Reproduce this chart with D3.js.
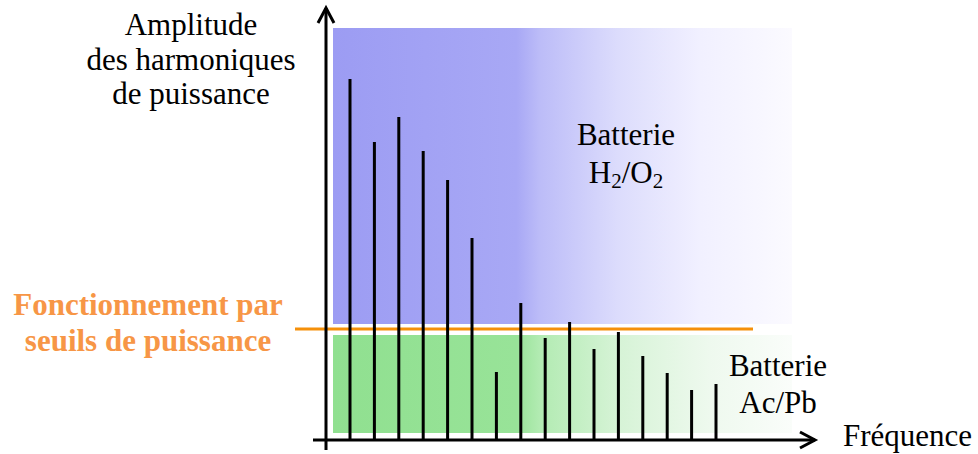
<!DOCTYPE html>
<html><head><meta charset="utf-8">
<script src="https://cdn.jsdelivr.net/npm/d3@7"></script>
<style>body{margin:0;background:#fff}svg{display:block}
.sf{font-family:"Liberation Serif","Times New Roman",Times,serif}</style>
</head><body>
<svg id="c" width="978" height="454"></svg>
<script>
// Data
const harmonics = [1,2,3,4,5,6,7,8,9,10,11,12,13,14,15,16];
const amplitudes = [90.25,74.5,80.75,72.25,65,50.5,17,34.25,25.5,29.5,22.75,27,21,16.75,12.5,14];
const threshold = 27.75;
const zoneH2O2 = [29, 103];
const zonePb = [1.75, 26.25];
const yTitle = ["Amplitude","des harmoniques","de puissance"];
const xTitle = "Fréquence";
const thresholdLabel = ["Fonctionnement par","seuils de puissance"];

const svg = d3.select("#c");
const x = d3.scaleLinear().domain([1,16]).range([350,716]);
const y = d3.scaleLinear().domain([0,100]).range([440,40]);
const axisX = 326, zoneL = 333, zoneR = 792;

const defs = svg.append("defs");
const gb = defs.append("linearGradient").attr("id","gb");
[[0,"#9c9cf3"],[0.4,"#a8a8f5"],[0.45,"#bcbcf8"],[0.62,"#dcdcfc"],[0.8,"#f1f0ff"],[1,"#fbfaff"]]
  .forEach(s=>gb.append("stop").attr("offset",s[0]).attr("stop-color",s[1]));
const gg = defs.append("linearGradient").attr("id","gg");
[[0,"#90e090"],[0.4,"#98e398"],[0.45,"#b2ebb2"],[0.62,"#d6f3d6"],[0.82,"#eef9ee"],[1,"#fafdfa"]]
  .forEach(s=>gg.append("stop").attr("offset",s[0]).attr("stop-color",s[1]));

svg.append("rect").attr("x",zoneL).attr("width",zoneR-zoneL)
  .attr("y",y(zoneH2O2[1])).attr("height",y(zoneH2O2[0])-y(zoneH2O2[1])).attr("fill","url(#gb)");
svg.append("rect").attr("x",zoneL).attr("width",zoneR-zoneL)
  .attr("y",y(zonePb[1])).attr("height",y(zonePb[0])-y(zonePb[1])).attr("fill","url(#gg)");

// threshold line
svg.append("line").attr("x1",295).attr("x2",753).attr("y1",y(threshold)).attr("y2",y(threshold))
  .attr("stroke","#f5900a").attr("stroke-width",3);

// bars
svg.selectAll("line.bar").data(harmonics).join("line").attr("class","bar")
  .attr("x1",d=>x(d)).attr("x2",d=>x(d))
  .attr("y1",y(0)).attr("y2",(d,i)=>y(amplitudes[i]))
  .attr("stroke","#000").attr("stroke-width",3);

// axes
const ax = svg.append("g").attr("stroke","#000").attr("stroke-width",3).attr("fill","none");
ax.append("line").attr("x1",axisX).attr("x2",axisX).attr("y1",450).attr("y2",8);
ax.append("path").attr("d",`M${axisX-8},23 L${axisX},8 L${axisX+8},23`);
ax.append("line").attr("x1",313).attr("x2",815).attr("y1",y(0)).attr("y2",y(0));
ax.append("path").attr("d",`M800,${y(0)-8} L815,${y(0)} L800,${y(0)+8}`);

const t1 = svg.append("text").attr("class","sf").attr("font-size",31).attr("text-anchor","middle").attr("fill","#000");
yTitle.forEach((s,i)=>t1.append("tspan").attr("x",191).attr("y",35+i*34.5).text(s));

svg.append("text").attr("class","sf").attr("font-size",31).attr("x",843).attr("y",446).text(xTitle);

const lab = svg.append("text").attr("class","sf").attr("font-size",31).attr("font-weight","bold")
  .attr("text-anchor","middle").attr("fill","#f79646");
thresholdLabel.forEach((s,i)=>lab.append("tspan").attr("x",148).attr("y",315+i*36).text(s));

const b1 = svg.append("text").attr("class","sf").attr("font-size",31).attr("text-anchor","middle");
b1.append("tspan").attr("x",626).attr("y",145).text("Batterie");
const l2 = b1.append("tspan").attr("x",626).attr("y",183);
l2.append("tspan").text("H");
l2.append("tspan").attr("font-size",21).attr("dy",5).text("2");
l2.append("tspan").attr("dy",-5).text("/O");
l2.append("tspan").attr("font-size",21).attr("dy",5).text("2");

const b2 = svg.append("text").attr("class","sf").attr("font-size",31).attr("text-anchor","middle");
b2.append("tspan").attr("x",778).attr("y",376).text("Batterie");
b2.append("tspan").attr("x",778).attr("y",413).text("Ac/Pb");
</script>
</body></html>
